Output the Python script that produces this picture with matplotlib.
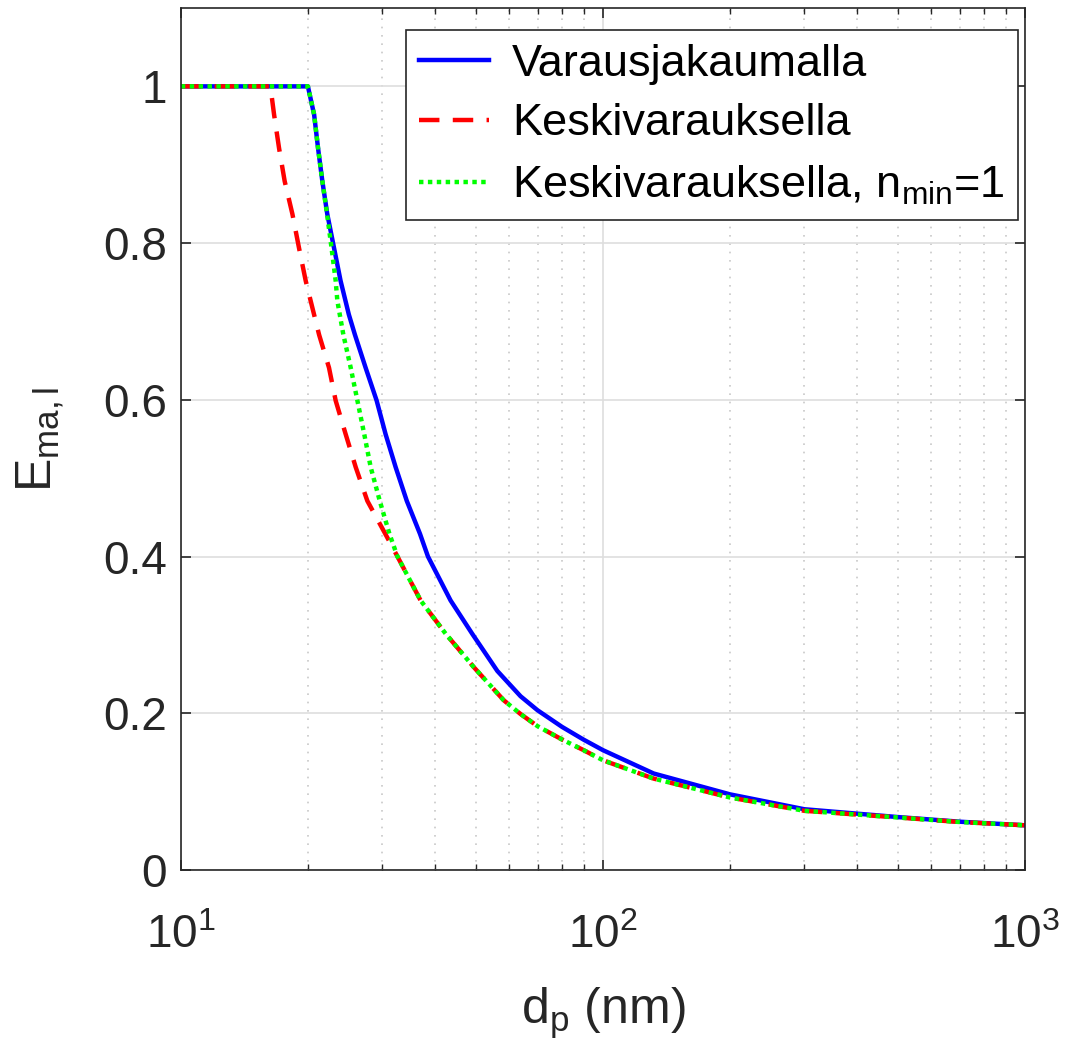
import matplotlib
matplotlib.use("Agg")
import matplotlib.pyplot as plt
from matplotlib.ticker import LogLocator, NullFormatter

plt.rcParams['font.family'] = ['Liberation Sans', 'DejaVu Sans']
plt.rcParams['mathtext.fontset'] = 'custom'
plt.rcParams['mathtext.rm'] = 'Liberation Sans'
plt.rcParams['mathtext.it'] = 'Liberation Sans'
plt.rcParams['mathtext.bf'] = 'Liberation Sans:bold'

# Particle diameter (nm) and collection efficiency, charge distribution model
d_var = [10, 20, 20.69, 21.14, 21.64, 22.23, 23.06, 23.9, 25.0, 25.85, 27.4, 29.1,
         30.56, 32.28, 34.3, 36.86, 38.5, 43.55, 49.0, 56.2, 63.8, 70, 80, 90, 100,
         131.9, 200, 300, 500, 700, 1000]
e_var = [1.0, 1.0, 0.964, 0.921, 0.879, 0.837, 0.794, 0.752, 0.709, 0.683, 0.641, 0.599,
         0.556, 0.514, 0.471, 0.429, 0.4, 0.344, 0.3015, 0.254, 0.2217, 0.2038, 0.1826,
         0.1663, 0.1529, 0.1231, 0.0965, 0.0775, 0.0675, 0.0616, 0.057]

# Mean charge model
d_mean = [10, 16.3, 16.63, 17.09, 17.62, 18.38, 19.05, 19.76, 20.31, 21.26, 22.44, 23.27,
          24.58, 25.96, 27.66, 30.5, 32.6, 36.98, 42.4, 49.4, 58.2, 63.8, 70, 80, 90, 100,
          131.9, 200, 300, 500, 700, 1000]
e_mean = [1.0, 1.0, 0.964, 0.921, 0.879, 0.837, 0.794, 0.752, 0.726, 0.683, 0.641, 0.599,
          0.556, 0.514, 0.471, 0.429, 0.4, 0.344, 0.3015, 0.259, 0.2166, 0.199, 0.1835,
          0.1665, 0.1529, 0.140, 0.1166, 0.0925, 0.0755, 0.067, 0.0612, 0.057]

# Mean charge model with n_min = 1
d_nmin = [10, 20, 20.69, 21.14, 21.64, 22.2, 22.75, 23.27, 23.49, 24.27, 25.26, 26.2,
          27.2, 28.17, 29.6, 31.2, 32.6, 36.98, 42.4, 49.4, 58.2, 63.8, 70, 80, 90, 100,
          131.9, 200, 300, 500, 700, 1000]
e_nmin = [1.0, 1.0, 0.964, 0.921, 0.879, 0.837, 0.794, 0.752, 0.726, 0.683, 0.641, 0.599,
          0.556, 0.514, 0.471, 0.429, 0.4, 0.344, 0.3015, 0.259, 0.2166, 0.199, 0.1835,
          0.1665, 0.1529, 0.140, 0.1166, 0.0925, 0.0755, 0.067, 0.0612, 0.057]

labels = ['Varausjakaumalla', 'Keskivarauksella', r'Keskivarauksella, n$_{\mathrm{min}}$=1']
y_ticks = [0, 0.2, 0.4, 0.6, 0.8, 1]
y_tick_labels = ['0', '0.2', '0.4', '0.6', '0.8', '1']

fig = plt.figure(figsize=(10.70, 10.54), dpi=100)
ax = fig.add_axes([0.169, 0.1746, 0.789, 0.8178])

ax.plot(d_var, e_var, color='#0000ff', lw=3.2, ls='-', label=labels[0])
ax.plot(d_mean, e_mean, color='#ff0000', lw=3.2, ls=(0, (4.6, 3.0)), label=labels[1])
ax.plot(d_nmin, e_nmin, color='#00ff00', lw=3.2, ls=(0, (1, 1)), label=labels[2])

ax.set_xscale('log')
ax.set_xlim(10, 1000)
ax.set_ylim(0, 1.1)
ax.set_yticks(y_ticks)
ax.set_yticklabels(y_tick_labels)
ax.xaxis.set_minor_locator(LogLocator(base=10, subs=range(2, 10)))
ax.xaxis.set_minor_formatter(NullFormatter())

ax.grid(which='major', color='#dedede', lw=1.2, ls='-')
ax.grid(which='minor', axis='x', color='#c8c8c8', lw=1.2, ls=(0, (1, 4)))
ax.set_axisbelow(True)

ax.tick_params(which='both', direction='in', top=True, right=True, color='#262626')
ax.tick_params(which='major', length=7, width=1.2, labelsize=33, labelcolor='#262626')
ax.tick_params(axis='y', which='major', pad=10)
ax.tick_params(axis='x', which='major', pad=32)
ax.tick_params(which='minor', length=4, width=1.0)
for s in ax.spines.values():
    s.set_color('#262626')
    s.set_linewidth(1.2)

ax.set_xlabel(r'd$_{\mathrm{p}}$ (nm)', fontsize=36, color='#262626', labelpad=20)
ax.set_ylabel(r'E$_{\mathrm{ma,l}}$', fontsize=36, color='#262626', labelpad=27)

leg = ax.legend(loc='upper right', bbox_to_anchor=(0.9917, 0.9745), borderaxespad=0,
                fontsize=32.5, frameon=True, fancybox=False,
                edgecolor='#262626', framealpha=1, handlelength=1.55,
                handletextpad=0.5, borderpad=0.3, labelspacing=0.42)
leg.get_frame().set_linewidth(1.2)
for t in leg.get_texts():
    t.set_color('#000000')

fig.savefig('out.png', dpi=100, facecolor='white')
